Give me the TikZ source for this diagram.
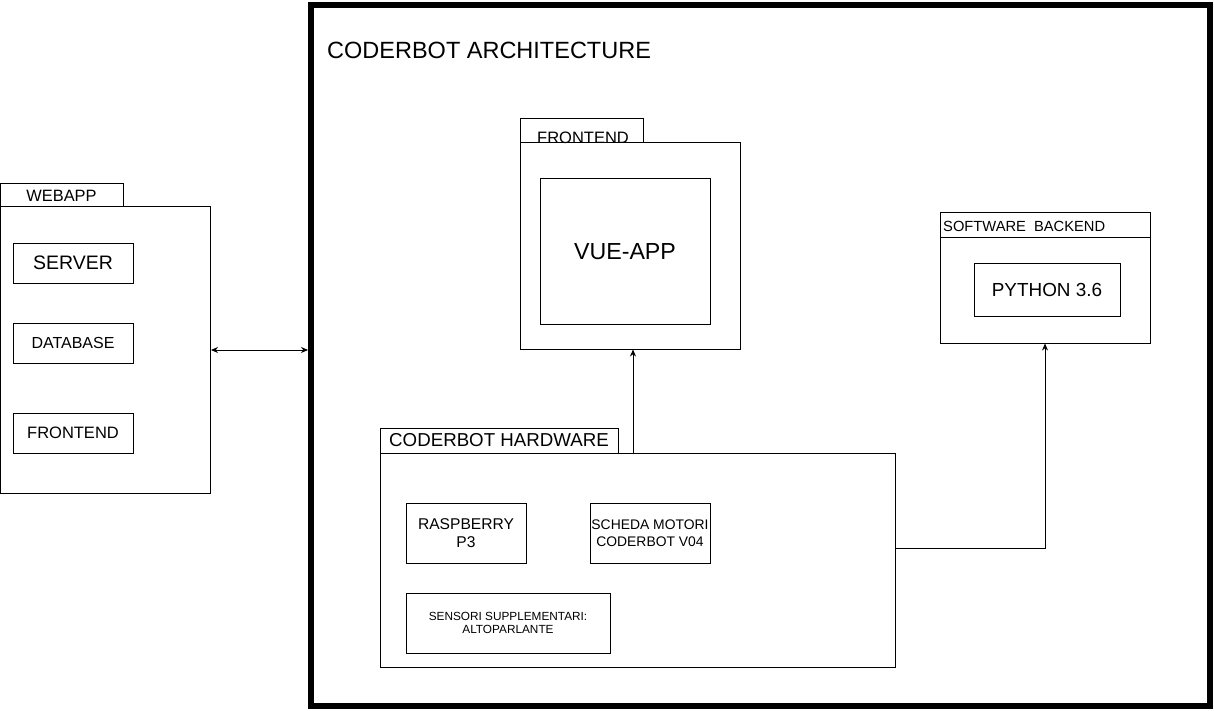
\documentclass[tikz,border=0pt]{standalone}
\usepackage{fontspec}
\setmainfont{Liberation Sans}
\usetikzlibrary{positioning, arrows.meta, calc}

\newcommand{\fsz}[2]{\fontsize{#1}{#2}\selectfont}

\tikzset{
    box/.style = {draw, line width=1pt, inner sep=0pt, align=center},
    comp/.style = {box, minimum width=120, minimum height=40},
    label/.style = {inner sep=0pt, anchor=west},
    arrow/.style = {-{Stealth[length=7pt,width=6pt]}, line width=0.9pt},
}

\begin{document}
\begin{tikzpicture}[x=1pt, y=-1pt]
    \useasboundingbox (0,0) rectangle (1214,711);
    % outer frame
    \node[draw, line width=6pt, inner sep=0pt, minimum width=899, minimum height=701] (arch) at (760.5,355.5) {};
    \node[label, font=\fsz{23.5}{28}] (title) at (327,50) {CODERBOT ARCHITECTURE};

    % webapp
    \node[box, minimum width=123, minimum height=23, font=\fsz{16.4}{20}] (webapptab) at (61.5,195.5) {WEBAPP};
    \node[box, minimum width=210, minimum height=286] (webapp) at (105.5,350) {};
    \node[comp, font=\fsz{19.5}{23}] (server) at (73,263) {SERVER};
    \node[comp, font=\fsz{16}{19}] (database) at (73,343) {DATABASE};
    \node[comp, font=\fsz{16.5}{20}] (webfront) at (73,433) {FRONTEND};

    % frontend
    \node[box, minimum width=123, minimum height=24] (fetab) at (581.5,131) {};
    \node[box, minimum width=220, minimum height=206] (fe) at (630,246) {};
    \node[inner sep=0pt, font=\fsz{16.5}{20}] (fetitle) at (583,138) {FRONTEND};
    \node[box, minimum width=170, minimum height=145, font=\fsz{23.2}{28}] (vue) at (625,251.5) {VUE-APP};

    % software backend
    \node[box, minimum width=210, minimum height=130] (backend) at (1045,278) {};
    \draw[line width=1pt] ([yshift=-25pt]backend.north west) -- ([yshift=-25pt]backend.north east);
    \node[label, font=\fsz{14.7}{18}] (backendtitle) at (943,226) {SOFTWARE\ \ BACKEND};
    \node[box, minimum width=146, minimum height=53, font=\fsz{18.9}{23}] (python) at (1047,289.5) {PYTHON 3.6};

    % hardware
    \node[box, minimum width=238, minimum height=25, font=\fsz{18.7}{22}] (hwtab) at (499,440.5) {CODERBOT HARDWARE};
    \node[box, minimum width=515, minimum height=214] (hw) at (637.5,560) {};
    \node[comp, minimum height=60, font=\fsz{15.6}{18.5}] (raspberry) at (466,533) {RASPBERRY\\P3};
    \node[comp, minimum height=60, font=\fsz{13.9}{16.5}] (motori) at (650,533) {SCHEDA MOTORI\\CODERBOT V04};
    \node[comp, minimum width=204, minimum height=60, font=\fsz{11.8}{13.8}] (sensori) at (508,623) {SENSORI SUPPLEMENTARI:\\ALTOPARLANTE};

    % connections
    \draw[arrow, {Stealth[length=7pt,width=6pt]}-{Stealth[length=7pt,width=6pt]}] (webapp.east) -- (webapp.east -| arch.west);
    \draw[arrow] ([xshift=3pt]fe.south |- hw.north) -- ([xshift=3pt]fe.south);
    \draw[arrow] ([yshift=12pt]hw.east) -| (backend.south);
\end{tikzpicture}
\end{document}
